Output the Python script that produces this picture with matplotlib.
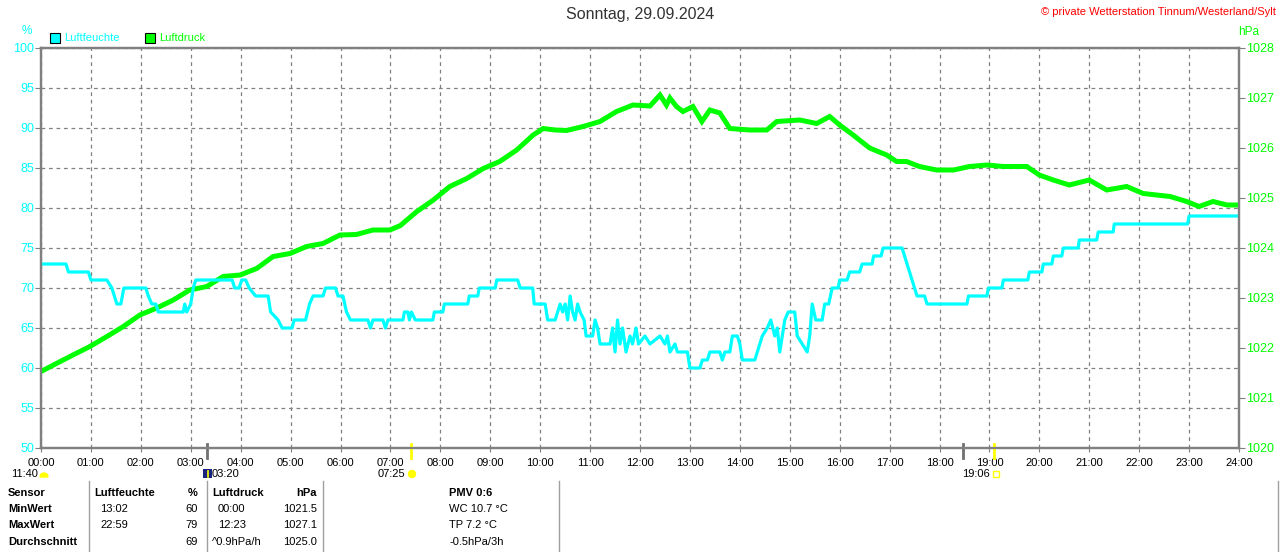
import matplotlib
matplotlib.use('Agg')
import matplotlib.pyplot as plt
import matplotlib.transforms as mtransforms
from matplotlib.patches import Rectangle, Wedge, Circle
from matplotlib.lines import Line2D

plt.rcParams['font.family'] = ['Liberation Sans', 'DejaVu Sans']

# Luftfeuchte (%) - Zeit in Stunden
feuchte_t = [0, 0.5, 0.55, 0.95, 1.0, 1.32, 1.42, 1.47, 1.52, 1.6, 1.66, 2.1, 2.15, 2.22, 2.3, 2.35,
             2.85, 2.88, 2.92, 3.0, 3.05, 3.1, 3.83, 3.88, 3.97, 4.02, 4.1, 4.17, 4.3, 4.55, 4.6,
             4.75, 4.83, 5.03, 5.07, 5.3, 5.38, 5.45, 5.65, 5.7, 5.9, 5.95, 6.05, 6.12, 6.2, 6.55,
             6.6, 6.65, 6.85, 6.9, 6.95, 7.25, 7.28, 7.35, 7.38, 7.42, 7.5, 7.85, 7.88, 8.05, 8.08,
             8.55, 8.58, 8.75, 8.78, 9.1, 9.13, 9.55, 9.6, 9.85, 9.88, 10.1, 10.15, 10.3, 10.35,
             10.4, 10.45, 10.5, 10.55, 10.6, 10.65, 10.7, 10.75, 10.8, 10.88, 10.92, 11.05, 11.1,
             11.15, 11.2, 11.4, 11.45, 11.5, 11.55, 11.6, 11.65, 11.72, 11.8, 11.85, 11.92, 11.97,
             12.1, 12.2, 12.4, 12.5, 12.55, 12.6, 12.7, 12.75, 12.95, 13.0, 13.2, 13.25, 13.35,
             13.4, 13.6, 13.65, 13.7, 13.8, 13.85, 13.95, 14.0, 14.05, 14.3, 14.35, 14.45, 14.55,
             14.62, 14.7, 14.75, 14.8, 14.9, 14.97, 15.1, 15.15, 15.25, 15.35, 15.4, 15.45, 15.52,
             15.65, 15.7, 15.78, 15.85, 15.97, 16.0, 16.15, 16.2, 16.4, 16.45, 16.65, 16.68, 16.83,
             16.87, 17.25, 17.3, 17.35, 17.4, 17.45, 17.5, 17.55, 17.7, 17.75, 18.55, 18.58, 18.95,
             18.98, 19.25, 19.28, 19.77, 19.8, 20.05, 20.08, 20.25, 20.28, 20.45, 20.48, 20.78,
             20.8, 21.15, 21.18, 21.48, 21.5, 22.97, 23.0, 24.0]
feuchte_v = [73, 73, 72, 72, 71, 71, 70, 69, 68, 68, 70, 70, 69, 68, 68, 67,
             67, 68, 67, 68, 70, 71, 71, 70, 70, 71, 71, 70, 69, 69, 67,
             66, 65, 65, 66, 66, 68, 69, 69, 70, 70, 69, 69, 67, 66, 66,
             65, 66, 66, 65, 66, 66, 67, 67, 66, 67, 66, 66, 67, 67, 68,
             68, 69, 69, 70, 70, 71, 71, 70, 70, 68, 68, 66, 66, 67,
             68, 67, 68, 66, 69, 67, 66, 68, 67, 66, 64, 64, 66,
             65, 63, 63, 65, 62, 66, 63, 65, 62, 64, 63, 65, 63,
             64, 63, 64, 63, 64, 62, 63, 62, 62, 60, 60, 61, 61,
             62, 62, 61, 62, 62, 64, 64, 63, 61, 61, 62, 64, 65,
             66, 64, 65, 62, 66, 67, 67, 64, 63, 62, 64, 68, 66,
             66, 68, 68, 70, 70, 71, 71, 72, 72, 73, 73, 74, 74,
             75, 75, 74, 73, 72, 71, 70, 69, 69, 68, 68, 69, 69,
             70, 70, 71, 71, 72, 72, 73, 73, 74, 74, 75, 75,
             76, 76, 77, 77, 78, 78, 79, 79]

# Luftdruck (hPa)
druck_t = [0, 0.25, 0.64, 0.98, 1.32, 1.65, 1.98, 2.32, 2.65, 2.98, 3.32, 3.65, 3.99, 4.32, 4.65,
           4.99, 5.32, 5.65, 5.99, 6.32, 6.65, 6.99, 7.2, 7.53, 7.86, 8.19, 8.53, 8.86, 9.19,
           9.53, 9.86, 10.06, 10.3, 10.53, 10.86, 11.2, 11.53, 11.86, 12.2, 12.4, 12.53, 12.6,
           12.73, 12.86, 13.06, 13.24, 13.4, 13.6, 13.8, 14.2, 14.54, 14.74, 15.2, 15.54, 15.8,
           16.0, 16.27, 16.6, 16.94, 17.14, 17.34, 17.6, 17.94, 18.28, 18.6, 18.95, 19.28,
           19.75, 20.0, 20.28, 20.6, 21.0, 21.35, 21.75, 22.08, 22.62, 22.95, 23.2, 23.48,
           23.76, 24.0]
druck_v = [1021.53, 1021.66, 1021.86, 1022.03, 1022.23, 1022.43, 1022.66, 1022.8, 1022.96,
           1023.16, 1023.23, 1023.43, 1023.46, 1023.59, 1023.83, 1023.89, 1024.03, 1024.09,
           1024.26, 1024.27, 1024.36, 1024.36, 1024.45, 1024.73, 1024.96, 1025.23, 1025.39,
           1025.59, 1025.73, 1025.96, 1026.26, 1026.39, 1026.36, 1026.35, 1026.43, 1026.53,
           1026.73, 1026.86, 1026.84, 1027.06, 1026.86, 1027.0, 1026.83, 1026.73, 1026.83,
           1026.53, 1026.76, 1026.7, 1026.39, 1026.36, 1026.36, 1026.53, 1026.56, 1026.49,
           1026.63, 1026.46, 1026.26, 1026.0, 1025.86, 1025.73, 1025.73, 1025.63, 1025.56,
           1025.56, 1025.63, 1025.66, 1025.63, 1025.63, 1025.46, 1025.36, 1025.26, 1025.36,
           1025.16, 1025.23, 1025.09, 1025.03, 1024.93, 1024.83, 1024.93, 1024.86, 1024.86]

stunden = list(range(25))
stunden_labels = ['%02d:00' % h for h in stunden]
feuchte_ticks = list(range(50, 101, 5))
druck_ticks = list(range(1020, 1029))

# Sonne / Mond Zeiten (Stunden)
mond_auf, sonne_auf, mond_unter, sonne_unter = 3 + 20/60, 7 + 25/60, 18 + 28/60, 19 + 6/60

tabelle = [
    ['Sensor', 'Luftfeuchte', '%', 'Luftdruck', 'hPa', 'PMV 0:6'],
    ['MinWert', '13:02', '60', '00:00', '1021.5', 'WC 10.7 °C'],
    ['MaxWert', '22:59', '79', '12:23', '1027.1', 'TP 7.2 °C'],
    ['Durchschnitt', '', '69', '^0.9hPa/h', '1025.0', '-0.5hPa/3h'],
]

CYAN = '#00ffff'
GRUEN = '#00ff00'
GRAU = '#808080'
W, H = 1280, 552


def fx(x):
    return x / W


def fy(y):
    return 1 - y / H


fig = plt.figure(figsize=(12.8, 5.52), dpi=100)
ax = fig.add_axes([fx(41), fy(448), 1198 / W, 400 / H])
ax2 = ax.twinx()

ax.set_xlim(0, 24)
ax.set_ylim(50, 100)
ax2.set_ylim(1020, 1028)
ax.set_xticks(stunden)
ax.set_xticklabels(stunden_labels)
ax.set_yticks(feuchte_ticks)
ax2.set_yticks(druck_ticks)
ax.grid(True, color=GRAU, linestyle=(0, (3, 3)), linewidth=0.9)
ax.set_axisbelow(True)

ax.tick_params(axis='x', length=3, color=GRAU, labelsize=8, pad=4, labelcolor='black')
ax.tick_params(axis='y', length=4, color=GRAU, labelsize=9, pad=1, labelcolor=CYAN)
ax2.tick_params(axis='y', length=4, color=GRAU, labelsize=9, pad=1, labelcolor=GRUEN)
for a in (ax, ax2):
    for sp in a.spines.values():
        sp.set_color(GRAU)
        sp.set_linewidth(1.6)

# Kurven (Luftfeuchte oben)
ax2.plot(druck_t, druck_v, color=GRUEN, linewidth=3.6, solid_joinstyle='miter')
ax2.plot(feuchte_t, feuchte_v, color=CYAN, linewidth=2.3, transform=ax.transData)

# Markierungen an der Zeitachse
trans = mtransforms.blended_transform_factory(ax.transData, ax.transAxes)
for t, c in [(mond_auf, '#707070'), (mond_unter, '#707070'), (sonne_auf, '#ffff00'), (sonne_unter, '#ffff00')]:
    ax.plot([t, t], [0.01, -0.025], color=c, linewidth=2, transform=trans, clip_on=False, zorder=5)

# Titel und Beschriftungen
fig.text(0.5, fy(15), 'Sonntag, 29.09.2024', ha='center', va='center', fontsize=11.5, color='#333333')
fig.text(fx(1276), fy(12), '© private Wetterstation Tinnum/Westerland/Sylt', ha='right', va='center',
         fontsize=8, color='#ff0000')
fig.text(fx(27), fy(31), '%', ha='center', va='center', fontsize=8.5, color=CYAN)
fig.text(fx(1249), fy(32), 'hPa', ha='center', va='center', fontsize=8.5, color=GRUEN)

# Legende
for x0, farbe, name in [(50, CYAN, 'Luftfeuchte'), (145, GRUEN, 'Luftdruck')]:
    fig.add_artist(Rectangle((fx(x0), fy(43)), 10 / W, 10 / H, facecolor=farbe, edgecolor='black', linewidth=0.8))
    fig.text(fx(x0 + 14), fy(38), name, ha='left', va='center', fontsize=8, color=farbe)

# Sonne/Mond Symbole
pix = mtransforms.IdentityTransform()
fig.text(fx(38), fy(474), '11:40', ha='right', va='center', fontsize=8)
fig.add_artist(Wedge((44, H - 477), 4, 0, 180, color='#ffff00', transform=pix))
fig.add_artist(Rectangle((203, H - 478), 9, 9, facecolor='#1a237e', edgecolor='none', transform=pix))
fig.add_artist(Line2D([207.5, 207.5], [H - 477, H - 471], color='#ffff00', linewidth=1.2, transform=pix))
fig.text(fx(212), fy(474), '03:20', ha='left', va='center', fontsize=8)
fig.text(fx(405), fy(474), '07:25', ha='right', va='center', fontsize=8)
fig.add_artist(Circle((412, H - 474), 3.5, color='#ffff00', transform=pix))
fig.text(fx(990), fy(474), '19:06', ha='right', va='center', fontsize=8)
fig.add_artist(Rectangle((993, H - 477), 6, 6, facecolor='none', edgecolor='#ffff00', linewidth=1, transform=pix))

# Tabelle
for x in [89, 207, 323, 559, 1278]:
    fig.add_artist(Line2D([fx(x), fx(x)], [fy(481), fy(552)], color='#a0a0a0', linewidth=1))

zeilen_y = [493, 509, 525, 542]
spalten = [(8, 'left'), (100, 'left'), (198, 'right'), (218, 'left'), (317, 'right'), (449, 'left')]
for i, zeile in enumerate(tabelle):
    for j, txt in enumerate(zeile):
        x, ha = spalten[j]
        if i == 0 and j in (1, 3):
            x -= 6
        if i == 3 and j == 3:
            x = 212
        bold = (i == 0) or (j == 0)
        fig.text(fx(x), fy(zeilen_y[i]), txt, ha=ha, va='center', fontsize=8,
                 fontweight='bold' if bold else 'normal', color='black')

fig.savefig('out.png', dpi=100)
